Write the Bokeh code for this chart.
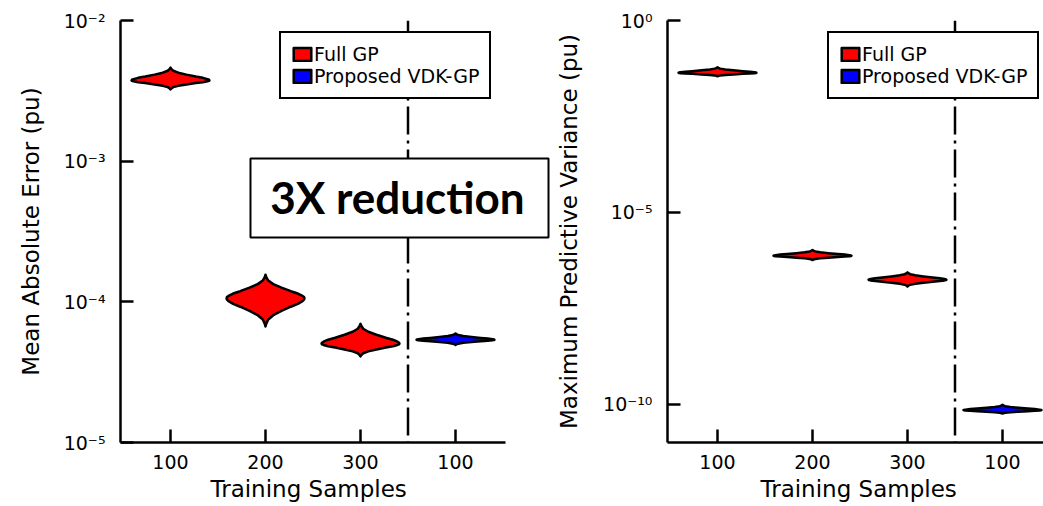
import numpy as np
from bokeh.plotting import figure
from bokeh.models import (Range1d, FixedTicker, Span, BoxAnnotation, Label,
                          Legend, LegendItem, Title)
from bokeh.layouts import row
from bokeh.embed import file_html
from bokeh.resources import INLINE

# ---------------- data ----------------
categories = ["100", "200", "300", "100"]
positions = [1, 2, 3, 4]
methods = ["Full GP", "Full GP", "Full GP", "Proposed VDK-GP"]

# Mean absolute error (pu): violin mode, upper tip, lower tip
mae_mode = [3.75e-3, 1.06e-4, 5.04e-5, 5.37e-5]
mae_high = [4.63e-3, 1.56e-4, 6.98e-5, 5.96e-5]
mae_low = [3.24e-3, 6.68e-5, 4.09e-5, 4.94e-5]

# Maximum predictive variance (pu)
var_mode = [4.32e-2, 7.39e-7, 1.75e-7, 6.97e-11]
var_high = [6.06e-2, 1.04e-6, 2.72e-7, 9.6e-11]
var_low = [3.52e-2, 5.7e-7, 1.17e-7, 5.69e-11]

mae_ticks = [1e-5, 1e-4, 1e-3, 1e-2]
mae_tick_labels = ["10\u207b\u2075", "10\u207b\u2074", "10\u207b\u00b3", "10\u207b\u00b2"]
var_ticks = [1e-10, 1e-5, 1e0]
var_tick_labels = ["10\u207b\u00b9\u2070", "10\u207b\u2075", "10\u2070"]

legend_labels = ["Full GP", "Proposed VDK-GP"]
colors = {"Full GP": "#ff0000", "Proposed VDK-GP": "#0000ff"}

# violin outline profile (relative half-width vs. fraction of distance from mode to tip)
prof_t = [0.0, 0.05, 0.1, 0.2, 0.3, 0.45, 0.6, 0.75, 0.9, 1.0]
prof_w = [1.0, 0.99, 0.95, 0.83, 0.65, 0.41, 0.20, 0.07, 0.02, 0.0]

FONT = "DejaVu Sans"
HALF = 0.41
PX = 95.0                 # pixels per category step
X0 = 1 - 50 / PX
X_AXIS_END = X0 + 385 / PX


def violin(xc, lo, mode, hi):
    lm, ll, lh = np.log10(mode), np.log10(lo), np.log10(hi)
    t = np.array(prof_t)
    w = np.array(prof_w)
    y_up = 10 ** (lm + t * (lh - lm))
    y_dn = 10 ** (lm + t * (ll - lm))
    ys_r = list(y_dn[::-1]) + list(y_up[1:])
    ws_r = list(w[::-1]) + list(w[1:])
    xs = [xc + HALF * v for v in ws_r] + [xc - HALF * v for v in ws_r[::-1]]
    ys = ys_r + ys_r[::-1]
    return xs, ys


def make_fig(width, border_left, frame_w, y_start, y_end, ticks, tick_labels,
             ylab, ylab_standoff, xlab_offset):
    p = figure(width=width, height=506, x_range=Range1d(X0, X0 + frame_w / PX),
               y_range=Range1d(y_start, y_end), y_axis_type="log",
               output_backend="svg", toolbar_location=None,
               min_border_left=border_left, min_border_right=0,
               min_border_top=20, min_border_bottom=64)
    p.grid.visible = False
    p.outline_line_color = None
    for ax in (p.xaxis, p.yaxis):
        ax.axis_line_width = 2.5
        ax.axis_line_color = "black"
        ax.major_tick_line_width = 2.5
        ax.major_tick_line_color = "black"
        ax.major_tick_in = 13
        ax.major_tick_out = 0
        ax.minor_tick_in = 0
        ax.minor_tick_out = 0
        ax.major_label_text_font = FONT
        ax.major_label_text_font_size = "19px"
        ax.major_label_text_color = "black"
    p.xaxis.bounds = (X0, X_AXIS_END)
    p.xaxis.ticker = FixedTicker(ticks=positions)
    p.xaxis.major_label_overrides = {pos: c for pos, c in zip(positions, categories)}
    p.xaxis.major_label_standoff = 12
    p.yaxis.ticker = FixedTicker(ticks=ticks)
    p.yaxis.major_label_overrides = {t: l for t, l in zip(ticks, tick_labels)}
    p.yaxis.major_label_standoff = 15
    p.yaxis.axis_label = ylab
    p.yaxis.axis_label_text_font = FONT
    p.yaxis.axis_label_text_font_size = "23px"
    p.yaxis.axis_label_text_font_style = "normal"
    p.yaxis.axis_label_text_color = "black"
    p.yaxis.axis_label_standoff = ylab_standoff
    p.add_layout(Title(text="Training Samples", align="left", offset=xlab_offset,
                       text_font=FONT, text_font_size="23px", text_font_style="normal",
                       text_color="black", standoff=4), "below")
    return p


def add_violins(p, modes, lows, highs):
    rs = {}
    for m in legend_labels:
        xs, ys = [], []
        for pos, meth, lo, mo, hi in zip(positions, methods, lows, modes, highs):
            if meth == m:
                a, b = violin(pos, lo, mo, hi)
                xs.append(a)
                ys.append(b)
        rs[m] = p.patches(xs=xs, ys=ys, fill_color=colors[m], line_color="black",
                          line_width=2.5, line_join="round")
    return rs


def add_legend(p, rs, loc):
    items = [LegendItem(label=m, renderers=[rs[m]]) for m in legend_labels]
    leg = Legend(items=items, location=loc, orientation="vertical",
                 padding=10, spacing=0, margin=0, glyph_width=22, glyph_height=16,
                 label_height=22, label_standoff=1,
                 label_text_font=FONT, label_text_font_size="19px",
                 label_text_color="black",
                 border_line_color="black", border_line_width=2, border_line_alpha=1.0,
                 background_fill_color="white", background_fill_alpha=1.0)
    p.add_layout(leg)


dash = "28 6 3 6"

# ---------------- left: MAE ----------------
p1 = make_fig(553, 120, 433, 1e-5, 1e-2, mae_ticks, mae_tick_labels,
              "Mean Absolute Error (pu)", 17, 90)
r1 = add_violins(p1, mae_mode, mae_low, mae_high)
p1.add_layout(Span(location=3.5, dimension="height", line_color="black",
                   line_width=2.5, line_dash=dash))
p1.add_layout(BoxAnnotation(left=1.842, right=4.979, bottom=10 ** -3.543, top=10 ** -2.981,
                            fill_color="white", fill_alpha=1.0, line_color="black",
                            line_width=2, line_alpha=1.0))
p1.add_layout(Label(x=3.389, y=10 ** (-2 - 176.5 / 140.67), text="3X reduction",
                    text_align="center", text_baseline="middle", text_font="Lato",
                    text_font_style="bold", text_font_size="44px", text_color="black"))
add_legend(p1, r1, (159, 343))

# ---------------- right: variance ----------------
p2 = make_fig(490, 114, 376, 10 ** -11, 1e0, var_ticks, var_tick_labels,
              "Maximum Predictive Variance (pu)", 18, 93)
r2 = add_violins(p2, var_mode, var_low, var_high)
p2.add_layout(Span(location=3.5, dimension="height", line_color="black",
                   line_width=2.5, line_dash=dash))
add_legend(p2, r2, (160, 343))

layout = row(p1, p2)
open("out.html", "w").write(file_html(layout, INLINE))
